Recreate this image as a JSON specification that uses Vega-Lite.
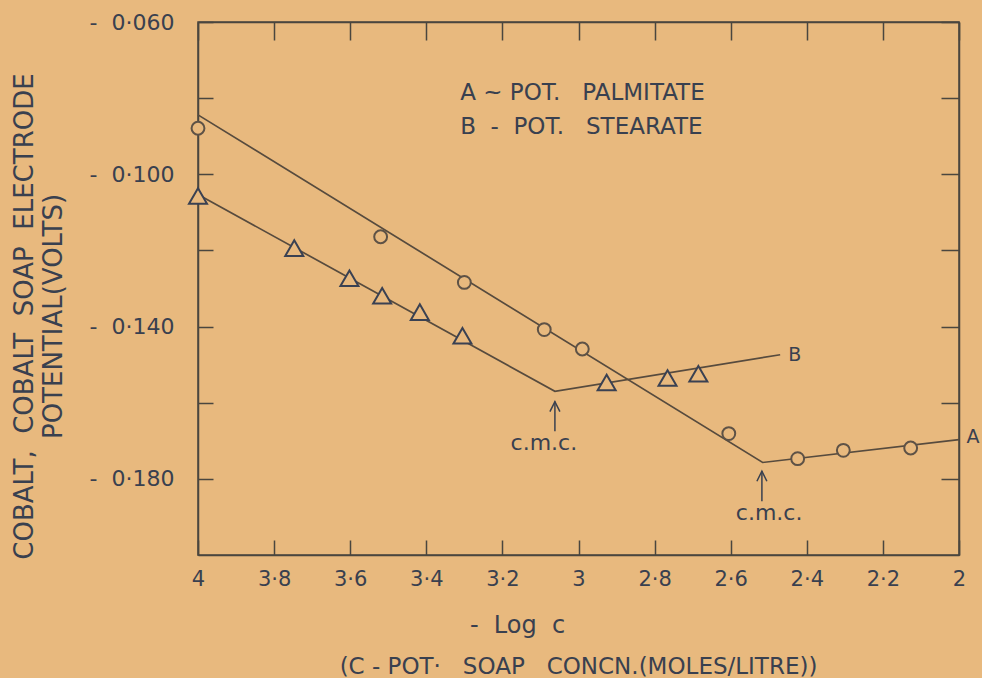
{
  "$schema": "https://vega.github.io/schema/vega-lite/v6.json",
  "width": 761,
  "height": 533,
  "autosize": {"type": "none"},
  "padding": {"left": 198, "top": 22, "right": 23, "bottom": 123},
  "background": "#e8b97e",
  "config": {
    "view": {"stroke": "#4a463f", "strokeWidth": 1.5},
    "font": "DejaVu Sans",
    "axis": {
      "grid": false,
      "domainColor": "#4a463f",
      "domainWidth": 1.5,
      "tickColor": "#4a463f",
      "tickWidth": 1.5,
      "labelColor": "#39404f",
      "titleColor": "#39404f",
      "labelFont": "DejaVu Sans",
      "titleFont": "DejaVu Sans",
      "titleFontWeight": "normal",
      "labelFlush": false,
      "labelOverlap": false
    }
  },
  "title": {
    "text": "(C\u00a0-\u00a0POT·\u00a0\u00a0\u00a0SOAP\u00a0\u00a0\u00a0CONCN.(MOLES/LITRE))",
    "orient": "bottom",
    "anchor": "middle",
    "frame": "group",
    "dx": 0,
    "offset": 19,
    "fontSize": 23,
    "fontWeight": "normal",
    "font": "DejaVu Sans",
    "color": "#39404f"
  },
  "datasets": {
    "points": [
      {"series": "A", "logc": 4.0, "potential": -0.0879},
      {"series": "A", "logc": 3.52, "potential": -0.1164},
      {"series": "A", "logc": 3.30, "potential": -0.1284},
      {"series": "A", "logc": 3.09, "potential": -0.1408},
      {"series": "A", "logc": 2.99, "potential": -0.1459},
      {"series": "A", "logc": 2.605, "potential": -0.1681},
      {"series": "A", "logc": 2.424, "potential": -0.1747},
      {"series": "A", "logc": 2.304, "potential": -0.1725},
      {"series": "A", "logc": 2.127, "potential": -0.1719},
      {"series": "B", "logc": 4.0, "potential": -0.1057},
      {"series": "B", "logc": 3.747, "potential": -0.1194},
      {"series": "B", "logc": 3.602, "potential": -0.1273},
      {"series": "B", "logc": 3.516, "potential": -0.1319},
      {"series": "B", "logc": 3.417, "potential": -0.1362},
      {"series": "B", "logc": 3.305, "potential": -0.1424},
      {"series": "B", "logc": 2.926, "potential": -0.1547},
      {"series": "B", "logc": 2.766, "potential": -0.1535},
      {"series": "B", "logc": 2.685, "potential": -0.1524}
    ],
    "lines": [
      {"series": "A", "o": 0, "logc": 4.0, "potential": -0.0844},
      {"series": "A", "o": 1, "logc": 2.516, "potential": -0.1757},
      {"series": "A", "o": 2, "logc": 2.0, "potential": -0.1697},
      {"series": "B", "o": 0, "logc": 4.0, "potential": -0.1053},
      {"series": "B", "o": 1, "logc": 3.062, "potential": -0.1570},
      {"series": "B", "o": 2, "logc": 2.470, "potential": -0.1474}
    ],
    "arrows": [
      {"logc": 3.062, "tip": -0.1597, "tail": -0.1675},
      {"logc": 2.518, "tip": -0.1780, "tail": -0.1859}
    ],
    "notes": [
      {"label": "A\u00a0~\u00a0POT.\u00a0\u00a0\u00a0PALMITATE", "logc": 3.311, "potential": -0.0786, "kind": "legend"},
      {"label": "B\u00a0\u00a0-\u00a0\u00a0POT.\u00a0\u00a0\u00a0STEARATE", "logc": 3.311, "potential": -0.0877, "kind": "legend"},
      {"label": "B", "logc": 2.449, "potential": -0.1474, "kind": "end"},
      {"label": "A", "logc": 1.980, "potential": -0.1689, "kind": "end"},
      {"label": "c.m.c.", "logc": 3.091, "potential": -0.1705, "kind": "cmc"},
      {"label": "c.m.c.", "logc": 2.499, "potential": -0.1889, "kind": "cmc"}
    ]
  },
  "layer": [
    {
      "data": {"name": "lines"},
      "mark": {"type": "line", "color": "#574b3e", "strokeWidth": 1.7},
      "encoding": {
        "x": {
          "field": "logc", "type": "quantitative",
          "scale": {"domain": [2, 4], "reverse": true, "nice": false, "zero": false},
          "axis": {
            "orient": "bottom",
            "values": [4, 3.8, 3.6, 3.4, 3.2, 3, 2.8, 2.6, 2.4, 2.2, 2],
            "labelExpr": "replace(format(datum.value, '.1~f'), '.', '·')",
            "labelFontSize": 21,
            "tickSize": -15,
            "labelPadding": 28,
            "title": "-\u00a0\u00a0Log\u00a0\u00a0c",
            "titleFontSize": 24,
            "titleX": 319,
            "titleY": 77,
            "titleAlign": "center",
            "titleBaseline": "alphabetic"
          }
        },
        "y": {
          "field": "potential", "type": "quantitative",
          "scale": {"domain": [-0.2, -0.06], "nice": false, "zero": false},
          "axis": {
            "orient": "left",
            "values": [-0.18, -0.16, -0.14, -0.12, -0.1, -0.08, -0.06],
            "labelExpr": "indexof([-0.06, -0.1, -0.14, -0.18], datum.value) >= 0 ? '-\u00a0\u00a0' + replace(format(-datum.value, '.3f'), '.', '·') : ''",
            "labelFontSize": 22,
            "tickSize": -15,
            "labelPadding": 39,
            "title": ["COBALT,\u00a0\u00a0COBALT\u00a0\u00a0SOAP\u00a0\u00a0ELECTRODE", "POTENTIAL(VOLTS)"],
            "titleFontSize": 26,
            "titleLineHeight": 29,
            "titleAngle": 270,
            "titleX": -174,
            "titleY": 294,
            "titleAlign": "center",
            "titleBaseline": "middle"
          }
        },
        "detail": {"field": "series"},
        "order": {"field": "o"}
      }
    },
    {
      "data": {"name": "points"},
      "transform": [{"filter": "datum.series === 'A'"}],
      "mark": {"type": "point", "shape": "circle", "size": 165, "filled": true, "fill": "#e8b97e", "stroke": "#5e5246", "strokeWidth": 2, "opacity": 1},
      "encoding": {
        "x": {
          "field": "logc", "type": "quantitative",
          "axis": {"orient": "top", "values": [4, 3.8, 3.6, 3.4, 3.2, 3, 2.8, 2.6, 2.4, 2.2, 2], "labels": false, "title": null, "tickSize": -18}
        },
        "y": {
          "field": "potential", "type": "quantitative",
          "axis": {"orient": "right", "values": [-0.18, -0.16, -0.14, -0.12, -0.1, -0.08, -0.06], "labels": false, "title": null, "tickSize": -18}
        }
      }
    },
    {
      "data": {"name": "points"},
      "transform": [{"filter": "datum.series === 'B'"}],
      "mark": {"type": "point", "shape": "triangle-up", "size": 324, "filled": true, "fill": "#e8b97e", "stroke": "#3a4152", "strokeWidth": 2, "opacity": 1},
      "encoding": {
        "x": {"field": "logc", "type": "quantitative", "axis": null},
        "y": {"field": "potential", "type": "quantitative", "axis": null}
      }
    },
    {
      "data": {"name": "arrows"},
      "mark": {"type": "rule", "color": "#39404f", "strokeWidth": 1.5},
      "encoding": {
        "x": {"field": "logc", "type": "quantitative", "axis": null},
        "y": {"field": "tip", "type": "quantitative", "axis": null},
        "y2": {"field": "tail"}
      }
    },
    {
      "data": {"name": "arrows"},
      "mark": {"type": "point", "shape": "M-1,2L0,0L1,2", "size": 100, "filled": false, "stroke": "#39404f", "strokeWidth": 1.5, "opacity": 1},
      "encoding": {
        "x": {"field": "logc", "type": "quantitative", "axis": null},
        "y": {"field": "tip", "type": "quantitative", "axis": null}
      }
    },
    {
      "data": {"name": "notes"},
      "transform": [{"filter": "datum.kind === 'legend'"}],
      "mark": {"type": "text", "align": "left", "baseline": "middle", "fontSize": 23, "color": "#39404f", "font": "DejaVu Sans"},
      "encoding": {
        "x": {"field": "logc", "type": "quantitative", "axis": null},
        "y": {"field": "potential", "type": "quantitative", "axis": null},
        "text": {"field": "label"}
      }
    },
    {
      "data": {"name": "notes"},
      "transform": [{"filter": "datum.kind === 'end'"}],
      "mark": {"type": "text", "align": "left", "baseline": "middle", "fontSize": 19, "color": "#39404f", "font": "DejaVu Sans"},
      "encoding": {
        "x": {"field": "logc", "type": "quantitative", "axis": null},
        "y": {"field": "potential", "type": "quantitative", "axis": null},
        "text": {"field": "label"}
      }
    },
    {
      "data": {"name": "notes"},
      "transform": [{"filter": "datum.kind === 'cmc'"}],
      "mark": {"type": "text", "align": "center", "baseline": "middle", "fontSize": 22, "color": "#39404f", "font": "DejaVu Sans"},
      "encoding": {
        "x": {"field": "logc", "type": "quantitative", "axis": null},
        "y": {"field": "potential", "type": "quantitative", "axis": null},
        "text": {"field": "label"}
      }
    }
  ]
}
